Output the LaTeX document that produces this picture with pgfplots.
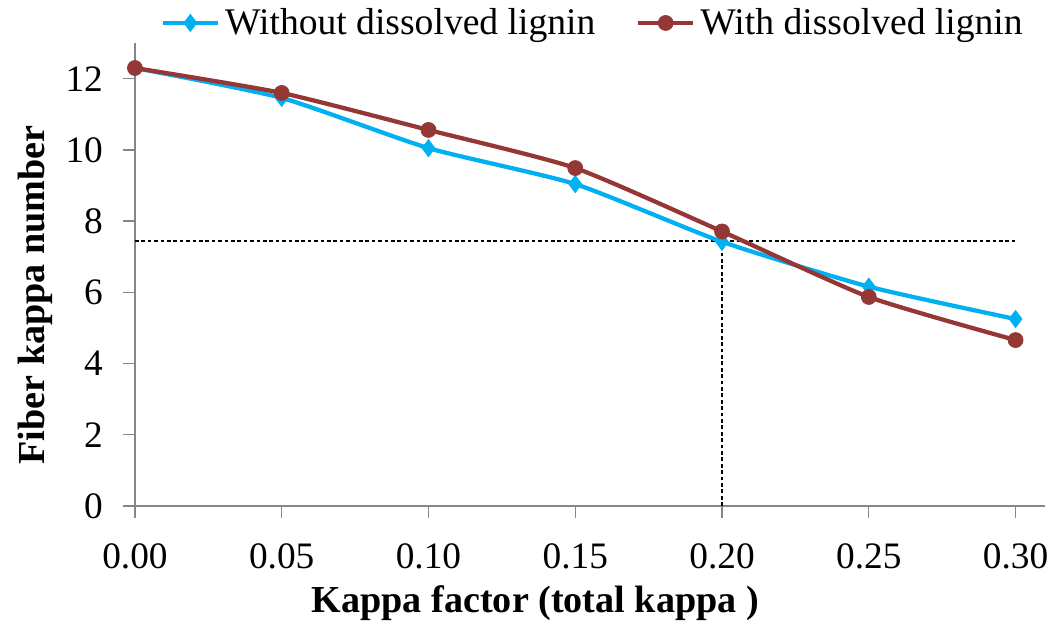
\documentclass[border=0pt]{standalone}
\usepackage{fontspec}
\setmainfont{Liberation Serif}
\usepackage{pgfplots}
\pgfplotsset{compat=1.18}
\definecolor{cyanline}{HTML}{00B0F0}
\definecolor{redline}{HTML}{953735}
\definecolor{axisgray}{HTML}{868686}
\pgfplotsset{
    longlegend/.style={
        legend image code/.code={
            \draw[mark repeat=2, mark phase=2] plot coordinates {(0cm,0cm) (0.36cm,0cm) (0.72cm,0cm)};
        },
    },
}
\begin{document}
\begin{tikzpicture}
    \begin{axis}[
        name=ax,
        scale only axis,
        width=341.25pt, height=173.6pt,
        xmin=0, xmax=0.31,
        ymin=0, ymax=13,
        axis x line=bottom, axis y line=left,
        axis line style={axisgray, line width=0.5pt, -},
        xtick={0,0.05,...,0.30},
        ytick={0,2,...,12},
        tick style={axisgray, line width=0.5pt},
        major tick length=4.5pt,
        tick align=outside,
        xticklabel style={/pgf/number format/.cd, fixed, fixed zerofill, precision=2},
        /pgf/number format/assume math mode=true,
        tick label style={font=\fontsize{14}{16}\selectfont},
        xticklabel shift=6pt,
        yticklabel shift=4pt,
        xlabel={\textbf{Kappa factor (total kappa )}},
        ylabel={\textbf{Fiber kappa number}},
        label style={font=\fontsize{14.3}{16}\selectfont},
        xlabel style={at={(axis description cs:0.44,0)}, anchor=north, yshift=-26.5pt},
        ylabel style={at={(axis description cs:0,0.456)}, anchor=south, yshift=27.5pt},
        legend style={
            at={(axis description cs:0.505,1)}, anchor=south, yshift=-0.3pt,
            draw=none, fill=none,
            legend columns=2,
            font=\fontsize{14.1}{16}\selectfont,
            /tikz/every even column/.append style={column sep=13.3pt},
            inner sep=0pt,
        },
        legend cell align=left,
        clip=false,
    ]
        % guide lines
        \addplot[black, line width=0.7pt, dash pattern=on 1.4pt off 1pt, forget plot]
            coordinates {(0,7.45) (0.30,7.45)};
        \addplot[black, line width=0.7pt, dash pattern=on 1.4pt off 1pt, forget plot]
            coordinates {(0.20,0) (0.20,7.45)};

        \addplot[cyanline, line width=1.6pt, smooth, tension=0.35, longlegend,
                 mark=diamond*, mark size=3.2pt,
                 mark options={solid, fill=cyanline, draw=cyanline, line width=0.3pt}]
            coordinates {
                (0.00, 12.30)
                (0.05, 11.46)
                (0.10, 10.05)
                (0.15,  9.04)
                (0.20,  7.42)
                (0.25,  6.16)
                (0.30,  5.25)
            };
        \addlegendentry{Without dissolved lignin}

        \addplot[redline, line width=1.6pt, smooth, tension=0.35, longlegend,
                 mark=*, mark size=2.8pt,
                 mark options={solid, fill=redline, draw=redline, line width=0.3pt}]
            coordinates {
                (0.00, 12.30)
                (0.05, 11.60)
                (0.10, 10.56)
                (0.15,  9.49)
                (0.20,  7.71)
                (0.25,  5.87)
                (0.30,  4.66)
            };
        \addlegendentry{With dissolved lignin}
    \end{axis}
    % page size of the reference, measured from the axis corner
    \pgfresetboundingbox
    \path ([shift={(-50.6pt,-43.9pt)}]ax.south west)
        rectangle ([shift={(348.4pt,189.75pt)}]ax.south west);
\end{tikzpicture}
\end{document}
